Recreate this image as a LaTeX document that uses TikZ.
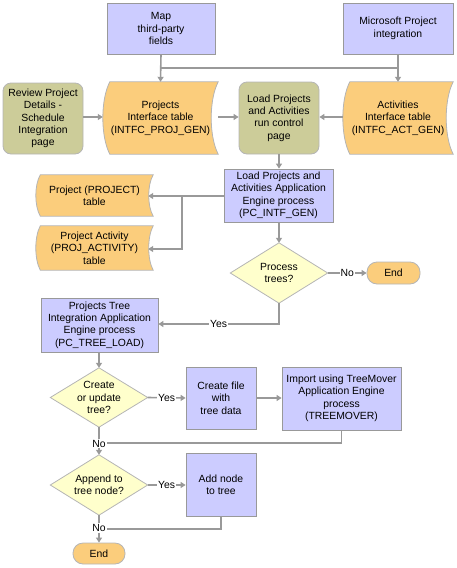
\documentclass[tikz,border=0pt]{standalone}
\usepackage{fontspec}
\setmainfont{Liberation Sans}
\usetikzlibrary{arrows.meta,backgrounds,calc}
\definecolor{lav}{HTML}{CCCCFF}
\definecolor{olive}{HTML}{CCCC99}
\definecolor{orng}{HTML}{FBCD7C}
\definecolor{yel}{HTML}{FFFFCC}
\definecolor{edge}{HTML}{999999}
\definecolor{ledge}{HTML}{B5B5B5}
\definecolor{conn}{HTML}{999999}
\newcommand{\tblshape}[3]{%
  \filldraw[fill=orng,draw=ledge,line width=0.8pt] ([xshift=#2pt]#1.north west) -- (#1.north east)
   .. controls ([xshift={-1.33*#2pt}, yshift={-0.25*#3pt}]#1.north east) and ([xshift={-1.33*#2pt}, yshift={0.25*#3pt}]#1.south east) .. (#1.south east)
   -- ([xshift=#2pt]#1.south west)
   .. controls ([xshift={-0.33*#2pt}, yshift={0.25*#3pt}]#1.south west) and ([xshift={-0.33*#2pt}, yshift={-0.25*#3pt}]#1.north west) .. cycle;}
\newcommand{\diashape}[1]{%
  \filldraw[fill=yel,draw=ledge,line width=0.8pt] (#1.north) -- (#1.east) -- (#1.south) -- (#1.west) -- cycle;}
\begin{document}
\begin{tikzpicture}[x=1pt,y=-1pt,
  every node/.style={font=\fontsize{10.4}{12.4}\selectfont, align=center, inner sep=0pt},
  procbox/.style={draw=edge, fill=lav, line width=0.8pt},
  pagebox/.style={draw=ledge, fill=olive, line width=0.8pt, rounded corners=8pt},
  tblbox/.style={},
  diabox/.style={},
  endbox/.style={draw=ledge, fill=orng, line width=0.8pt, rounded corners=10pt},
  conn/.style={draw=conn, line width=1.6pt},
  arr/.style={conn, -{Triangle[length=5pt,width=6pt]}},
  lbl/.style={fill=white, inner sep=1pt}
]
\useasboundingbox (0,0) rectangle (456,568);

% top row
\node[procbox, minimum width=108, minimum height=51] (map) at (161,28.5) {Map\\third-party\\fields};
\node[procbox, minimum width=110, minimum height=51] (msp) at (398,28.5) {Microsoft Project\\integration};
\node[pagebox, minimum width=80, minimum height=71] (review) at (43,118.5) {Review Project\\Details -\\Schedule\\Integration\\page};
\node[tblbox, minimum width=115, minimum height=72] (projtbl) at (160.5,118) {Projects\\Interface table\\(INTFC\_PROJ\_GEN)};
\node[pagebox, minimum width=80, minimum height=72] (loadrc) at (279,118) {Load Projects\\and Activities\\run control\\page};
\node[tblbox, minimum width=110, minimum height=72] (acttbl) at (398,118) {Activities\\Interface table\\(INTFC\_ACT\_GEN)};

% middle
\node[procbox, minimum width=109, minimum height=53] (intf) at (278.5,195.5) {Load Projects and\\Activities Application\\Engine process\\(PC\_INTF\_GEN)};
\node[tblbox, minimum width=117, minimum height=41] (ptbl) at (94.5,195.5) {Project (PROJECT)\\table};
\node[tblbox, minimum width=117, minimum height=44] (patbl) at (94.5,248) {Project Activity\\(PROJ\_ACTIVITY)\\table};
\node[diabox, minimum width=97, minimum height=60] (dproc) at (279,273) {Process\\trees?};
\node[endbox, minimum width=53, minimum height=22] (end1) at (393.5,273) {End};
\node[procbox, minimum width=117, minimum height=54] (tree) at (99.5,325) {Projects Tree\\Integration Application\\Engine process\\(PC\_TREE\_LOAD)};

% bottom
\node[diabox, minimum width=97, minimum height=59] (dcreate) at (99,397.5) {Create\\or update\\tree?};
\node[procbox, minimum width=70, minimum height=62] (cfile) at (221,398) {Create file\\with\\tree data};
\node[procbox, minimum width=119, minimum height=63] (imp) at (341.5,398.5) {Import using TreeMover\\Application Engine\\process\\(TREEMOVER)};
\node[diabox, minimum width=97, minimum height=60] (dappend) at (99,485) {Append to\\tree node?};
\node[procbox, minimum width=70, minimum height=63] (addn) at (221,484.5) {Add node\\to tree};
\node[endbox, minimum width=52, minimum height=21] (end2) at (99,553.5) {End};

\begin{scope}[on background layer]
\tblshape{projtbl}{7}{72}
\tblshape{acttbl}{7}{72}
\tblshape{ptbl}{4.5}{41}
\tblshape{patbl}{4.5}{44}
\diashape{dproc}
\diashape{dcreate}
\diashape{dappend}
\end{scope}

\coordinate (j1) at (map.south |- 0,68);
\coordinate (j2) at (msp.south |- 0,68);
\draw[conn] (j1) -- (j2);
\draw[arr] (map.south) -- (projtbl.north);
\draw[arr] (msp.south) -- (acttbl.north);
\draw[arr] (review.east |- 0,117) -- (projtbl.west |- 0,117);
\draw[arr] (projtbl.east |- 0,117) -- (loadrc.west |- 0,117);
\draw[arr] (acttbl.west |- 0,117) -- (loadrc.east |- 0,117);
\draw[arr] (loadrc.south) -- (intf.north -| loadrc.south);
\coordinate (br) at (182,196);
\draw[arr] (intf.west |- 0,196) -- ([xshift=-5pt]ptbl.east |- 0,196);
\draw[arr] (br) |- ([xshift=-5pt]patbl.east |- 0,249);
\draw[arr] (intf.south -| dproc.north) -- (dproc.north);
\draw[arr] (dproc.east) -- node[lbl]{No} (end1.west);
\draw[arr] (dproc.south) |- node[lbl, pos=0.75]{Yes} (tree.east |- 0,324);
\draw[arr] (tree.south -| dcreate.north) -- (dcreate.north);
\draw[arr] (dcreate.east) -- node[lbl, pos=0.5]{Yes} (cfile.west);
\draw[arr] (cfile.east) -- (imp.west |- cfile.east);
\coordinate (m1) at (107,443);
\draw[conn] (imp.south) |- (m1);
\draw[arr] (dcreate.south) -- node[lbl, pos=0.6]{No} (dappend.north);
\draw[arr] (dappend.east) -- node[lbl, pos=0.5]{Yes} (addn.west |- dappend.east);
\coordinate (m2) at (107,529);
\draw[conn] (addn.south) |- (m2);
\draw[arr] (dappend.south) -- node[lbl, pos=0.47]{No} (end2.north);
\end{tikzpicture}
\end{document}
